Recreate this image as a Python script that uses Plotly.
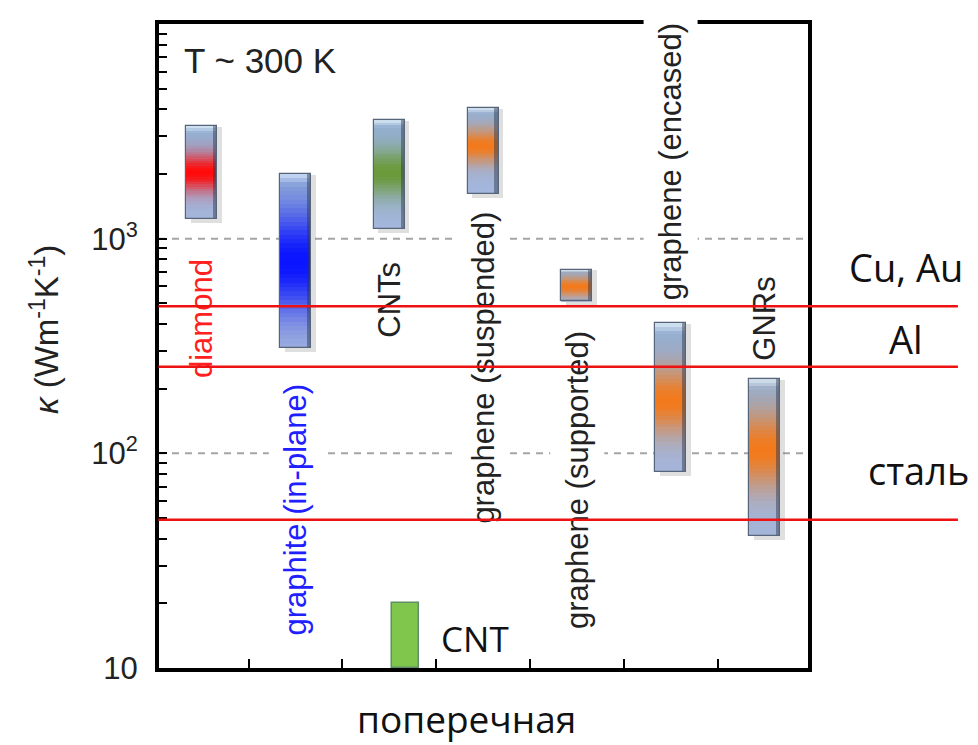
import math
import plotly.graph_objects as go

# ---------------- data ----------------
materials = ["diamond", "graphite (in-plane)", "CNTs", "graphene (suspended)",
             "graphene (supported)", "graphene (encased)", "GNRs"]
positions = [1, 2, 3, 4, 5, 6, 7]
kappa_low = [1230, 310, 1110, 1620, 510, 82, 41]
kappa_high = [3350, 2010, 3570, 4060, 718, 404, 223]
kappa_peak = [2030, 780, 2030, 2700, 600, 176, 104]

cross_label = "CNT"
cross_pos = [3.17]
cross_low = [10]
cross_high = [20]

ref_names = ["Cu, Au", "Al", "сталь"]
ref_values = [484, 253, 49]

grid_values = [100, 1000]
y_tick_values = [10, 100, 1000, 10000]
y_tick_labels = ["10", "10<sup>2</sup>", "10<sup>3</sup>", "10<sup>4</sup>"]
y_minor_values = [20, 30, 40, 50, 60, 70, 80, 90,
                  200, 300, 400, 500, 600, 700, 800, 900,
                  2000, 3000, 4000, 5000, 6000, 7000, 8000, 9000]
x_tick_values = [1.5, 2.5, 3.5, 4.5, 5.5, 6.5]

# ---------------- style ----------------
peak_colors = ["#ff0a0a", "#0a14ff", "#6a9a3a", "#f27a1c", "#f27a1c", "#f27a1c", "#f27a1c"]
peak_sigma = [0.2, 0.3, 0.22, 0.2, 0.3, 0.22, 0.24]
label_colors = ["#ff2020", "#2020ff", "#222222", "#222222", "#222222", "#222222", "#222222"]
label_y = [425, 55, 521, 251, 75, 2285, 422]   # label centres in data units
bottom_col = "#a4b6dc"
top_col = "#93afd2"
cap_col = "#d9e9f7"
bar_w = 0.33
N_SEG = 40
TXT = "Liberation Sans, Arial, sans-serif"
CAL = "Open Sans, sans-serif"


def hex2rgb(h):
    h = h.lstrip("#")
    return [int(h[i:i + 2], 16) for i in (0, 2, 4)]


def mix(c1, c2, t):
    a, b = hex2rgb(c1), hex2rgb(c2)
    return "rgb(%d,%d,%d)" % tuple(round(a[i] + (b[i] - a[i]) * t) for i in range(3))


def rgb2hex(s):
    v = [int(x) for x in s[4:-1].split(",")]
    return "#%02x%02x%02x" % tuple(v)


fig = go.Figure()

# soft shadow behind bars
fig.add_trace(go.Bar(
    x=positions, base=[v * 0.96 for v in kappa_low],
    y=[h * 0.99 - l * 0.96 for l, h in zip(kappa_low, kappa_high)],
    width=bar_w, offset=-bar_w / 2 + 0.05,
    marker=dict(color="rgba(80,80,80,0.18)", line=dict(width=0)),
    hoverinfo="skip", showlegend=False))

# gradient bodies
seg_x, seg_base, seg_len, seg_col = [], [], [], []
for i, p in enumerate(positions):
    L0, L1, Lp = math.log10(kappa_low[i]), math.log10(kappa_high[i]), math.log10(kappa_peak[i])
    for k in range(N_SEG):
        a = L0 + (L1 - L0) * k / N_SEG
        b = L0 + (L1 - L0) * (k + 1) / N_SEG
        rel = (k + 0.5) / N_SEG
        end = rgb2hex(mix(bottom_col, top_col, rel))
        if rel > 0.93:
            end = rgb2hex(mix(end, cap_col, (rel - 0.93) / 0.07))
        t = ((a + b) / 2 - Lp) / (L1 - L0)
        w = math.exp(-(t / peak_sigma[i]) ** 2)
        seg_x.append(p)
        seg_base.append(10 ** a)
        seg_len.append(10 ** b * 1.004 - 10 ** a)
        seg_col.append(mix(end, peak_colors[i], w))
fig.add_trace(go.Bar(
    x=seg_x, base=seg_base, y=seg_len, width=bar_w,
    marker=dict(color=seg_col, line=dict(width=0)),
    hoverinfo="skip", showlegend=False))

# dark right edge strip
fig.add_trace(go.Bar(
    x=positions, base=kappa_low,
    y=[h - l for l, h in zip(kappa_low, kappa_high)],
    width=0.045, offset=bar_w / 2 - 0.045,
    marker=dict(color="rgba(40,50,70,0.45)", line=dict(width=0)),
    hoverinfo="skip", showlegend=False))

# outline
fig.add_trace(go.Bar(
    x=positions, base=kappa_low,
    y=[h - l for l, h in zip(kappa_low, kappa_high)],
    width=bar_w,
    marker=dict(color="rgba(0,0,0,0)", line=dict(color="#56657a", width=1.2)),
    hoverinfo="skip", showlegend=False))

# green cross-plane CNT bar
fig.add_trace(go.Bar(
    x=cross_pos, base=cross_low,
    y=[h - l for l, h in zip(cross_low, cross_high)],
    width=0.29,
    marker=dict(color="#80c64c", line=dict(color="#5f8f6a", width=1.5)),
    hoverinfo="skip", showlegend=False))

# dashed gridlines
shapes = []
for g in grid_values:
    shapes.append(dict(type="line", xref="paper", x0=0, x1=1, yref="y", y0=g, y1=g,
                       line=dict(color="#a5a5a5", width=2, dash="7px,6px"), layer="below"))

annotations = []
# material labels (white boxes hide gridlines / top frame)
for i, name in enumerate(materials):
    annotations.append(dict(
        x=positions[i], y=math.log10(label_y[i]), xref="x", yref="y",
        text=name, textangle=-90, showarrow=False,
        font=dict(family=TXT, size=31, color=label_colors[i]),
        bgcolor="white", borderpad=9, xanchor="center", yanchor="middle"))

annotations.append(dict(x=0.1556, y=0.944, xref="paper", yref="paper", text="T ~ 300 K",
                        showarrow=False, font=dict(family=TXT, size=35, color="#222222"),
                        xanchor="center", yanchor="middle"))
annotations.append(dict(x=-0.176, y=0.526, xref="paper", yref="paper",
                        text="<i>κ</i> (Wm<sup>-1</sup>K<sup>-1</sup>)", textangle=-90,
                        showarrow=False, font=dict(family=TXT, size=33, color="#222222"),
                        xanchor="center", yanchor="middle"))
annotations.append(dict(x=0.487, y=0.046, xref="paper", yref="paper", text=cross_label,
                        showarrow=False, font=dict(family=CAL, size=35, color="#111111"),
                        xanchor="center", yanchor="middle"))
annotations.append(dict(x=0.474, y=-0.079, xref="paper", yref="paper", text="поперечная",
                        showarrow=False, font=dict(family=CAL, size=37, color="#111111"),
                        xanchor="center", yanchor="middle"))
ref_label_xy = [(1.151, 0.622), (1.151, 0.511), (1.1695, 0.308)]
for name, (lx, ly) in zip(ref_names, ref_label_xy):
    annotations.append(dict(x=lx, y=ly, xref="paper", yref="paper", text=name,
                            showarrow=False, font=dict(family=CAL, size=38, color="#111111"),
                            xanchor="center", yanchor="middle"))

# red reference lines drawn as arrows so they sit above the label boxes
for v in ref_values:
    annotations.append(dict(x=1.231, y=math.log10(v), xref="paper", yref="y",
                            ax=-801, ay=0, axref="pixel", ayref="pixel", text="",
                            showarrow=True, arrowhead=0, arrowwidth=2.5, arrowcolor="#ee1111",
                            standoff=0, startstandoff=0))

# the page body adds an 8 px margin, so the figure is 8 px smaller and shifted
fig.update_layout(
    width=970, height=737,
    margin=dict(l=151, r=170, t=14, b=77),
    paper_bgcolor="white", plot_bgcolor="white",
    barmode="overlay", bargap=0, showlegend=False,
    shapes=shapes, annotations=annotations,
    xaxis=dict(range=[0.546, 7.463], showgrid=False, zeroline=False,
               showline=True, linecolor="black", linewidth=4, mirror=True,
               tickvals=x_tick_values, showticklabels=False,
               ticks="inside", ticklen=9, tickwidth=2, tickcolor="black"),
    yaxis=dict(type="log", range=[1, 4], showgrid=False, zeroline=False,
               showline=True, linecolor="black", linewidth=4, mirror=True,
               tickvals=y_tick_values, ticktext=y_tick_labels,
               ticks="inside", ticklen=8, tickwidth=2, tickcolor="black",
               minor=dict(tickvals=y_minor_values, ticks="inside", ticklen=8,
                          tickwidth=2, tickcolor="black", showgrid=False),
               ticklabelstandoff=11,
               tickfont=dict(family=TXT, size=31, color="#222222")),
)

fig.write_html("out.html")
